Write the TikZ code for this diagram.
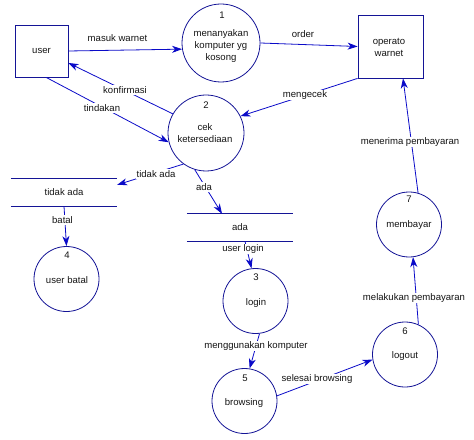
\documentclass[tikz,border=0pt]{standalone}
\usepackage{fontspec}
\setmainfont{Liberation Sans}
\usetikzlibrary{arrows.meta,calc}
\definecolor{shapeblue}{RGB}{20,20,150}
\definecolor{flowblue}{RGB}{10,10,200}
\definecolor{txt}{RGB}{20,20,20}
\tikzset{
  every node/.style={font=\fontsize{9.6}{11}\selectfont, text=txt},
  entity/.style={draw=shapeblue, line width=0.8bp, minimum width=53bp, minimum height=52bp, inner sep=0},
  proc/.style={draw=shapeblue, line width=0.8bp, circle, inner sep=0},
  storeline/.style={draw=shapeblue, line width=0.8bp},
  storebox/.style={inner sep=0, minimum height=27bp},
  flow/.style={draw=flowblue, line width=0.8bp, -{Stealth[length=10bp,width=7bp,inset=3bp]}},
  lbl/.style={fill=white, inner sep=1bp},
  ptxt/.style={inner sep=0, align=center}
}
\begin{document}
\begin{tikzpicture}[x=1bp,y=-1bp]
\useasboundingbox (0,0) rectangle (474,440);
% entities
\node[entity] (user) at (41.5,51) {user};
\node[entity, minimum width=65bp, minimum height=63bp] (op) at (390.5,46.5) {};
\node[ptxt] (opt) at (389,47) {operato\\[1bp]warnet};
% processes
\node[proc, minimum size=78bp] (p1) at (221,43) {};
\node[ptxt] (p1n) at (222,15) {1};
\node[ptxt] (p1t) at (221,46) {menanyakan\\[1.5bp]komputer yg\\[1.5bp]kosong};
\node[proc, minimum size=76bp] (p2) at (206,133) {};
\node[ptxt] (p2n) at (206,105) {2};
\node[ptxt] (p2t) at (205,133) {cek\\[1bp]ketersediaan};
\node[proc, minimum size=65bp] (p3) at (255.5,301) {};
\node[ptxt] (p3n) at (256,277) {3};
\node[ptxt] (p3t) at (256,303) {login};
\node[proc, minimum size=65bp] (p4) at (66.5,279) {};
\node[ptxt] (p4n) at (67,255) {4};
\node[ptxt] (p4t) at (67,280) {user batal};
\node[proc, minimum size=65bp] (p5) at (244.5,401) {};
\node[ptxt] (p5n) at (245,378) {5};
\node[ptxt] (p5t) at (244,403) {browsing};
\node[proc, minimum size=65bp] (p6) at (405,354.5) {};
\node[ptxt] (p6n) at (405,331) {6};
\node[ptxt] (p6t) at (405,356) {logout};
\node[proc, minimum size=65bp] (p7) at (409,224.5) {};
\node[ptxt] (p7n) at (409,199) {7};
\node[ptxt] (p7t) at (409,225) {membayar};
% data stores
\node[storebox, minimum width=106bp] (s1) at (64,192.5) {tidak ada};
\draw[storeline] (s1.north west) -- (s1.north east) (s1.south west) -- (s1.south east);
\node[storebox, minimum width=106bp] (s2) at (240,227.5) {ada};
\draw[storeline] (s2.north west) -- (s2.north east) (s2.south west) -- (s2.south east);
% helper coordinates
\coordinate (s1in) at ($(s1.north east)+(0,6)$);
\coordinate (s2in) at ($(s2.north)+(-18,0)$);
\coordinate (s2out) at ($(s2.south)+(5,0)$);
\coordinate (opin) at ($(op.south)+(12.5,0)$);
% flows
\draw[flow] (user.east) -- (p1.189);
\draw[flow] (p1.east) -- (op.west);
\draw[flow] (op.south west) -- (p2.26);
\draw[flow] (p2.150) -- (user.-24);
\draw[flow] (user.-80) -- (p2.194);
\draw[flow] (p2.234) -- (s1in);
\draw[flow] (s1.south) -- (p4.north);
\draw[flow] (p2.253) -- (s2in);
\draw[flow] (s2out) -- (p3.97);
\draw[flow] (p3.-83) -- (p5.81);
\draw[flow] (p5.9) -- (p6.189);
\draw[flow] (p6.66) -- (p7.-83);
\draw[flow] (p7.74) -- (opin);
% labels
\node[lbl] (l1) at (117.5,38) {masuk warnet};
\node[lbl] (l2) at (303,34) {order};
\node[lbl] (l3) at (125,90) {konfirmasi};
\node[lbl] (l4) at (102,108) {tindakan};
\node[lbl] (l5) at (305,95) {mengecek};
\node[lbl] (l6) at (410,142) {menerima pembayaran};
\node[lbl] (l7) at (156,174) {tidak ada};
\node[lbl] (l8) at (204,187) {ada};
\node[lbl] (l9) at (62.5,220) {batal};
\node[lbl] (l10) at (243,249) {user login};
\node[lbl] (l11) at (256,346) {menggunakan komputer};
\node[lbl] (l12) at (317,379) {selesai browsing};
\node[lbl] (l13) at (414,298) {melakukan pembayaran};
\end{tikzpicture}
\end{document}
